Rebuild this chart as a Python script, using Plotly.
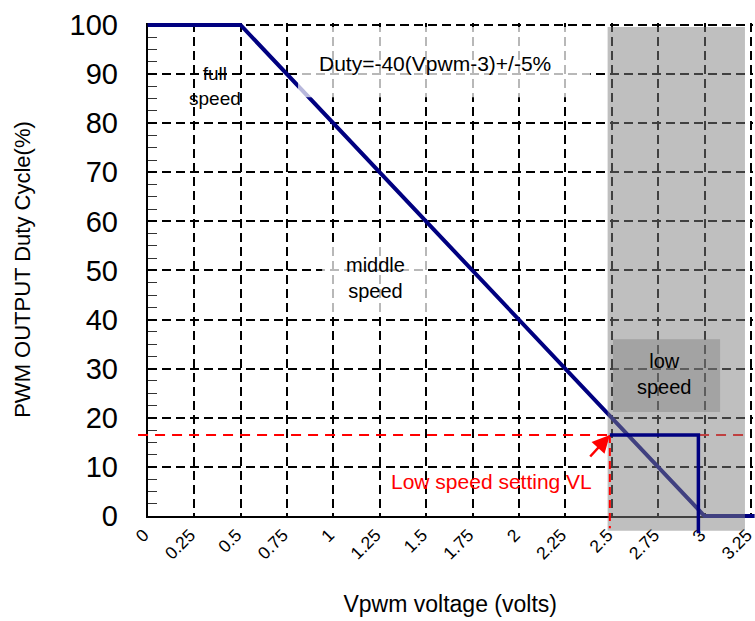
import plotly.graph_objects as go

# ---------------- data ----------------
x_tick_vals = [0, 0.25, 0.5, 0.75, 1, 1.25, 1.5, 1.75, 2, 2.25, 2.5, 2.75, 3, 3.25]
x_tick_text = ["0", "0.25", "0.5", "0.75", "1", "1.25", "1.5", "1.75", "2",
               "2.25", "2.5", "2.75", "3", "3.25"]
y_tick_vals = [0, 10, 20, 30, 40, 50, 60, 70, 80, 90, 100]

# duty cycle characteristic (navy curve)
curve_v = [0, 0.5, 3.0, 3.27]
curve_pct = [100, 100, 0, 0]

# low speed setting VL step
vl_v = 2.49
vl_pct = 16.5
step_v = [2.49, 2.967, 2.967]
step_pct = [16.5, 16.5, -3.5]

# red dashed reference lines
ref_h_v = [-0.052, 3.22]
ref_h_pct = [16.5, 16.5]
ref_v_v = [2.49, 2.49]
ref_v_pct = [16.5, -2.5]

# shaded regions
low_region_v = [2.478, 3.218]
low_region_pct = [-3.0, 99.6]
low_box_v = [2.507, 3.084]
low_box_pct = [21.2, 36.0]
duty_box_v = [0.81, 2.385]
duty_box_pct = [85.3, 99.6]
mid_box_v = [0.94, 1.51]
mid_box_pct = [41.3, 55.6]

# ---------------- layout geometry ----------------
W, H = 755, 621
ML, MR, MT, MB = 110, 0, 15, 70
PW, PH = W - ML - MR, H - MT - MB
X0PX, X325PX = 147.7, 750.9   # pixel of x=0 and x=3.25
Y0PX, Y100PX = 516.0, 25.0    # pixel of y=0 and y=100
XPU = (X325PX - X0PX) / 3.25
YPU = (Y0PX - Y100PX) / 100.0
XR = [0, 3.26]
YR = [0, 100.4]
dx = [(X0PX - ML) / PW, (X0PX + XR[1] * XPU - ML) / PW]
dy = [(H - MB - Y0PX) / PH, (H - MB - (Y0PX - YR[1] * YPU)) / PH]
x2range = [-(X0PX - ML) / XPU, (ML + PW - X0PX) / XPU]
y2range = [-(H - MB - Y0PX) / YPU, (Y0PX - MT) / YPU]

FONT = "Liberation Sans, Arial, sans-serif"
NAVY = "#000080"


def rect(xs, ys):
    return [xs[0], xs[1], xs[1], xs[0], xs[0]], [ys[0], ys[0], ys[1], ys[1], ys[0]]


fig = go.Figure()

# dummy trace so the main (grid) subplot renders
fig.add_trace(go.Scatter(x=[None], y=[None], xaxis="x", yaxis="y",
                         showlegend=False, hoverinfo="skip"))

# navy characteristic curve
fig.add_trace(go.Scatter(x=curve_v, y=curve_pct, mode="lines", xaxis="x2", yaxis="y2",
                         line=dict(color=NAVY, width=4), showlegend=False))
# red dashed horizontal reference
fig.add_trace(go.Scatter(x=ref_h_v, y=ref_h_pct, mode="lines", xaxis="x2", yaxis="y2",
                         line=dict(color="#ff0000", width=2, dash="10px,7px"),
                         showlegend=False))
# white translucent text backgrounds
for bx, by in [(duty_box_v, duty_box_pct), (mid_box_v, mid_box_pct)]:
    rx, ry = rect(bx, by)
    fig.add_trace(go.Scatter(x=rx, y=ry, mode="lines", fill="toself", xaxis="x2", yaxis="y2",
                             fillcolor="rgba(255,255,255,0.72)", line=dict(width=0),
                             showlegend=False, hoverinfo="skip"))
# low speed region
rx, ry = rect(low_region_v, low_region_pct)
fig.add_trace(go.Scatter(x=rx, y=ry, mode="lines", fill="toself", xaxis="x2", yaxis="y2",
                         fillcolor="rgba(128,128,128,0.5)", line=dict(width=0),
                         showlegend=False, hoverinfo="skip"))
rx, ry = rect(low_box_v, low_box_pct)
fig.add_trace(go.Scatter(x=rx, y=ry, mode="lines", fill="toself", xaxis="x2", yaxis="y2",
                         fillcolor="rgba(128,128,128,0.45)", line=dict(width=0),
                         showlegend=False, hoverinfo="skip"))
# red vertical dashed at VL
fig.add_trace(go.Scatter(x=ref_v_v, y=ref_v_pct, mode="lines", xaxis="x2", yaxis="y2",
                         line=dict(color="#ff0000", width=2, dash="8px,5px"),
                         showlegend=False))
# step line
fig.add_trace(go.Scatter(x=step_v, y=step_pct, mode="lines", xaxis="x2", yaxis="y2",
                         line=dict(color=NAVY, width=3.5), showlegend=False))

annotations = [
    dict(x=1.548, y=92.1, text="Duty=-40(Vpwm-3)+/-5%", font=dict(size=21)),
    dict(x=0.36, y=87.6, text="full<br>speed", font=dict(size=19)),
    dict(x=1.23, y=48.5, text="middle<br>speed", font=dict(size=20)),
    dict(x=2.787, y=29.0, text="low<br>speed", font=dict(size=20)),
    dict(x=1.852, y=7.0, text="Low speed setting VL", font=dict(size=21, color="#ff0000")),
]
for a in annotations:
    a.update(xref="x2", yref="y2", showarrow=False)
    a["font"].setdefault("color", "black")
    a["font"]["family"] = FONT
annotations.append(dict(x=vl_v, y=vl_pct, xref="x2", yref="y2", text="", showarrow=True,
                        ax=-21, ay=23, arrowcolor="#ff0000", arrowhead=2, arrowsize=1.4,
                        arrowwidth=2.5, standoff=0))

grid_common = dict(showgrid=True, gridcolor="black", gridwidth=2, griddash="9px,5px",
                   zeroline=False, showline=True, linecolor="black", linewidth=2,
                   mirror=False)

fig.update_layout(
    width=W, height=H,
    margin=dict(l=ML, r=MR, t=MT, b=MB, pad=0),
    paper_bgcolor="white", plot_bgcolor="rgba(0,0,0,0)",
    font=dict(family=FONT, color="black"),
    showlegend=False,
    xaxis=dict(domain=dx, range=XR, anchor="y", tickmode="array",
               tickvals=x_tick_vals, ticktext=x_tick_text, tickangle=-45,
               tickfont=dict(size=17.5), ticks="", fixedrange=True,
               ticklabeloverflow="allow", ticklabelshift=-4,
               title=dict(text="Vpwm voltage (volts)", font=dict(size=23), standoff=34),
               automargin=False, **grid_common),
    yaxis=dict(domain=dy, range=YR, anchor="x", tickmode="array",
               tickvals=y_tick_vals, tickfont=dict(size=29), ticks="inside",
               ticklen=9, tickcolor="black", tickwidth=1.3, ticklabelstandoff=22,
               minor=dict(tick0=0, dtick=2.5, ticks="inside", ticklen=9,
                          tickcolor="#333333", tickwidth=1.3, showgrid=False),
               title=dict(text="PWM OUTPUT Duty Cycle(%)", font=dict(size=22), standoff=33),
               automargin=False, fixedrange=True, **grid_common),
    xaxis2=dict(domain=[0, 1], range=x2range, anchor="y2", visible=False, fixedrange=True),
    yaxis2=dict(domain=[0, 1], range=y2range, anchor="x2", visible=False, fixedrange=True),
    annotations=annotations,
)

fig.write_html("out.html", config={"displayModeBar": False},
               post_script="document.body.style.margin='0px';")
